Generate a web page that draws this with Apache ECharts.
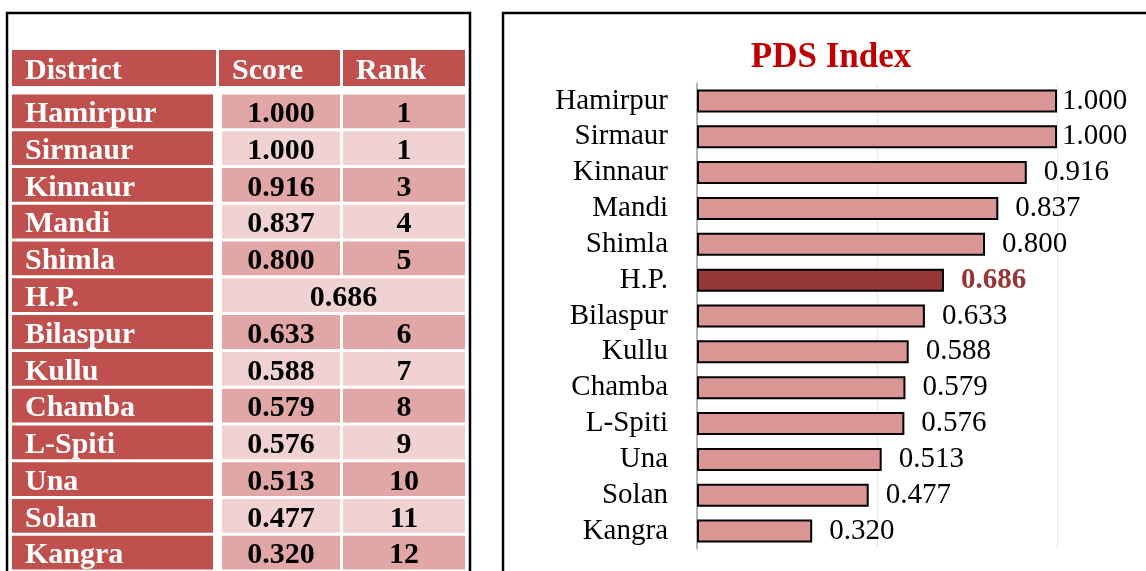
<!DOCTYPE html>
<html>
<head>
<meta charset="utf-8">
<style>
  html, body { margin: 0; padding: 0; background: #fff; }
  #main { width: 1146px; height: 571px; }
</style>
<script src="https://cdn.jsdelivr.net/npm/echarts@6/dist/echarts.min.js"></script>
</head>
<body>
<div id="main"></div>
<script>
var districts = ['Hamirpur', 'Sirmaur', 'Kinnaur', 'Mandi', 'Shimla', 'H.P.', 'Bilaspur',
  'Kullu', 'Chamba', 'L-Spiti', 'Una', 'Solan', 'Kangra'];
var scores = [1.000, 1.000, 0.916, 0.837, 0.800, 0.686, 0.633, 0.588, 0.579, 0.576, 0.513, 0.477, 0.320];
var ranks = [1, 1, 3, 4, 5, null, 6, 7, 8, 9, 10, 11, 12];
var headers = ['District', 'Score', 'Rank'];

var serif = '"Liberation Serif", "Times New Roman", serif';
var red = '#C0504D';
var pinkDark = '#E0A7A6';
var pinkLight = '#F0D2D2';

// column edges of the table (x pixels)
var headCols = [[12, 216], [219, 340], [343, 465]];
var bodyCols = [[12, 213], [222, 340], [343, 465]];

var chart = echarts.init(document.getElementById('main'));

function cellText(txt, x, y, color, align) {
  return {
    type: 'text',
    style: {
      text: txt, x: x, y: y, fill: color,
      font: 'bold 30px ' + serif,
      align: align, verticalAlign: 'middle'
    }
  };
}

function renderHead(params, api) {
  var col = api.value(0);
  var c = headCols[col];
  var p0 = api.coord([c[0], 0]);
  var p1 = api.coord([c[1], 0]);
  var h = api.size([0, 1])[1];
  return {
    type: 'group',
    children: [
      { type: 'rect', shape: { x: p0[0], y: p0[1] - h / 2, width: p1[0] - p0[0], height: h }, style: { fill: red } },
      cellText(headers[col], p0[0] + 13, p0[1] + 3, '#fff', 'left')
    ]
  };
}

function renderBody(params, api) {
  var i = api.value(0);
  var mid = api.coord([0, i])[1];
  var h = api.size([0, 1])[1] - 3;
  var top = mid - h / 2;
  var fill = i % 2 === 0 ? pinkDark : pinkLight;
  var kids = [];
  var x0 = api.coord([bodyCols[0][0], i])[0];
  var x1 = api.coord([bodyCols[0][1], i])[0];
  kids.push({ type: 'rect', shape: { x: x0, y: top, width: x1 - x0, height: h }, style: { fill: red } });
  kids.push(cellText(districts[i], x0 + 13, mid + 3, '#fff', 'left'));
  var sA = api.coord([bodyCols[1][0], i])[0];
  var sB = api.coord([bodyCols[1][1], i])[0];
  var rA = api.coord([bodyCols[2][0], i])[0];
  var rB = api.coord([bodyCols[2][1], i])[0];
  if (ranks[i] == null) {
    kids.push({ type: 'rect', shape: { x: sA, y: top, width: rB - sA, height: h }, style: { fill: fill } });
    kids.push(cellText(scores[i].toFixed(3), (sA + rB) / 2, mid + 3, '#000', 'center'));
  } else {
    kids.push({ type: 'rect', shape: { x: sA, y: top, width: sB - sA, height: h }, style: { fill: fill } });
    kids.push(cellText(scores[i].toFixed(3), (sA + sB) / 2, mid + 3, '#000', 'center'));
    kids.push({ type: 'rect', shape: { x: rA, y: top, width: rB - rA, height: h }, style: { fill: fill } });
    kids.push(cellText(String(ranks[i]), (rA + rB) / 2, mid + 3, '#000', 'center'));
  }
  return { type: 'group', children: kids };
}

var barData = scores.map(function (v, i) {
  var item = { value: v, label: {} };
  if (v >= 1) item.label.distance = 5;
  if (districts[i] === 'H.P.') {
    item.itemStyle = { color: '#953735' };
    item.label.color = '#943634';
    item.label.fontWeight = 'bold';
  }
  return item;
});

var option = {
  animation: false,
  backgroundColor: '#fff',
  title: {
    text: 'PDS Index',
    left: 826,
    top: 35,
    textAlign: 'center',
    textStyle: { fontFamily: serif, fontSize: 35, fontWeight: 'bold', color: '#C00000' }
  },
  grid: [
    { left: 0, right: 0, top: 50, height: 36 },
    { left: 0, right: 0, top: 93, height: 481 },
    { left: 697, right: 89, top: 83, height: 466 }
  ],
  xAxis: [
    { gridIndex: 0, type: 'value', min: 0, max: 1146, show: false },
    { gridIndex: 1, type: 'value', min: 0, max: 1146, show: false },
    {
      gridIndex: 2, type: 'value', min: 0, max: 1, interval: 0.5,
      axisLine: { show: false }, axisTick: { show: false }, axisLabel: { show: false },
      splitLine: { lineStyle: { color: '#E8E8E8', width: 1 } }
    }
  ],
  yAxis: [
    { gridIndex: 0, type: 'category', data: ['head'], show: false },
    { gridIndex: 1, type: 'category', data: districts, inverse: true, show: false },
    {
      gridIndex: 2, type: 'category', data: districts, inverse: true,
      axisLine: { lineStyle: { color: '#A0A0A0', width: 1.5 } },
      axisTick: { interval: 0, length: 9, lineStyle: { color: '#A0A0A0', width: 1.5 } },
      axisLabel: { interval: 0, fontFamily: serif, fontSize: 29, color: '#000', margin: 29 }
    }
  ],
  series: [
    {
      type: 'custom', xAxisIndex: 0, yAxisIndex: 0,
      data: headers.map(function (h, i) { return [i]; }),
      renderItem: renderHead
    },
    {
      type: 'custom', xAxisIndex: 1, yAxisIndex: 1,
      data: districts.map(function (d, i) { return [i]; }),
      renderItem: renderBody
    },
    {
      type: 'bar', xAxisIndex: 2, yAxisIndex: 2,
      data: barData,
      barWidth: 23,
      itemStyle: { color: '#D99694', borderColor: '#000', borderWidth: 2 },
      label: {
        show: true, position: 'right', distance: 17,
        fontFamily: serif, fontSize: 29, color: '#000',
        formatter: function (p) { return p.value.toFixed(3); }
      }
    }
  ],
  graphic: [
    { type: 'polyline', shape: { points: [[7, 571], [7, 13], [470, 13], [470, 571]] }, style: { stroke: '#000', lineWidth: 2.5, fill: null } },
    { type: 'polyline', shape: { points: [[503, 571], [503, 13], [1146, 13]] }, style: { stroke: '#000', lineWidth: 2.5, fill: null } }
  ]
};

chart.setOption(option);
</script>
</body>
</html>
